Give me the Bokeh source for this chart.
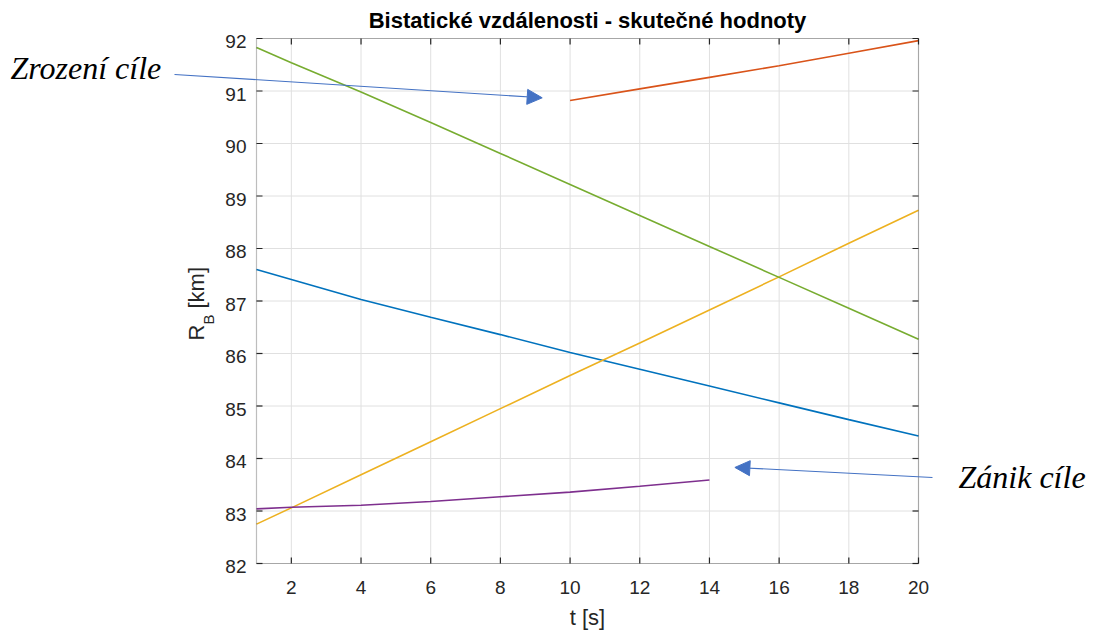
import math
from bokeh.plotting import figure
from bokeh.models import Range1d, Label, Arrow, NormalHead, BoxAnnotation
from bokeh.embed import file_html
from bokeh.resources import INLINE
from bokeh.core.properties import value

# Bistatic ranges of the targets over time (t in s, R_B in km)
t_blue = [1, 2, 4, 6, 8, 10, 12, 14, 16, 18, 20]
r_blue = [87.60, 87.41, 87.03, 86.69, 86.36, 86.02, 85.70, 85.38, 85.06, 84.74, 84.43]

t_orange = [10, 12, 14, 16, 18, 20]
r_orange = [90.82, 91.04, 91.26, 91.48, 91.72, 91.96]

t_yellow = [1, 2, 4, 6, 8, 10, 12, 14, 16, 18, 20]
r_yellow = [82.75, 83.06, 83.69, 84.32, 84.95, 85.58, 86.20, 86.83, 87.46, 88.10, 88.73]

t_purple = [1, 2, 4, 6, 8, 10, 12, 14]
r_purple = [83.04, 83.07, 83.11, 83.18, 83.27, 83.36, 83.47, 83.59]

t_green = [1, 2, 4, 6, 8, 10, 12, 14, 16, 18, 20]
r_green = [91.83, 91.54, 90.98, 90.40, 89.81, 89.22, 88.63, 88.04, 87.45, 86.86, 86.27]

x_ticks = [2, 4, 6, 8, 10, 12, 14, 16, 18, 20]
x_tick_labels = [str(v) for v in x_ticks]
y_ticks = [82, 83, 84, 85, 86, 87, 88, 89, 90, 91, 92]
y_tick_labels = [str(v) for v in y_ticks]

X0, X1 = 1, 20
Y0, Y1 = 82, 92

# page size and where the axes box sits on it (pixels from top-left)
W, H = 1093, 632
FL, FR, FT, FB = 256, 918, 38, 563
SX = (FR - FL) / (X1 - X0)   # px per second
SY = (FB - FT) / (Y1 - Y0)   # px per km

def dx(px):
    return X0 + (px - FL) / SX

def dy(py):
    return Y1 - (py - FT) / SY

SANS = "Liberation Sans"
SERIF = "Liberation Serif"
AX = "#262626"
GRID = "#e0e0e0"
AXW = 1.2

# the plotting frame covers the whole page, so that the side notes,
# the arrows and the axis texts around the box are all drawn in it
p = figure(width=W, height=H, output_backend="svg", toolbar_location=None,
           x_range=Range1d(dx(0), dx(W)), y_range=Range1d(dy(H), dy(0)),
           min_border_left=0, min_border_right=0, min_border_top=0,
           min_border_bottom=0, x_axis_location=None, y_axis_location=None)
p.outline_line_color = None
p.background_fill_color = "white"
p.border_fill_color = "white"
p.xgrid.visible = False
p.ygrid.visible = False

nx, ny = len(x_ticks), len(y_ticks)

# grid lines inside the box
p.segment(x0=x_ticks, y0=[Y0] * nx, x1=x_ticks, y1=[Y1] * nx,
          line_color=GRID, line_width=1)
p.segment(x0=[X0] * ny, y0=y_ticks, x1=[X1] * ny, y1=y_ticks,
          line_color=GRID, line_width=1)

# data
LW = 1.6
p.line(t_blue, r_blue, line_color="#0072BD", line_width=LW)
p.line(t_orange, r_orange, line_color="#D95319", line_width=LW)
p.line(t_yellow, r_yellow, line_color="#EDB120", line_width=LW)
p.line(t_purple, r_purple, line_color="#7E2F8E", line_width=LW)
p.line(t_green, r_green, line_color="#77AC30", line_width=LW)

# box around the axes
p.add_layout(BoxAnnotation(left=X0, right=X1, bottom=Y0, top=Y1,
                           fill_alpha=0, line_color=AX, line_width=AXW))

# inward ticks on all four edges
TL = 6
p.segment(x0=x_ticks, y0=[Y0] * nx, x1=x_ticks, y1=[Y0 + TL / SY] * nx,
          line_color=AX, line_width=AXW)
p.segment(x0=x_ticks, y0=[Y1] * nx, x1=x_ticks, y1=[Y1 - TL / SY] * nx,
          line_color=AX, line_width=AXW)
p.segment(x0=[X0] * ny, y0=y_ticks, x1=[X0 + TL / SX] * ny, y1=y_ticks,
          line_color=AX, line_width=AXW)
p.segment(x0=[X1] * ny, y0=y_ticks, x1=[X1 - TL / SX] * ny, y1=y_ticks,
          line_color=AX, line_width=AXW)

# tick labels
p.text(x=x_ticks, y=[Y0] * nx, text=x_tick_labels, y_offset=24,
       text_align="center", text_baseline="middle", text_font=value(SANS),
       text_font_size="19px", text_color=AX)
p.text(x=[X0] * ny, y=y_ticks, text=y_tick_labels, x_offset=-10, y_offset=3,
       text_align="right", text_baseline="middle", text_font=value(SANS),
       text_font_size="19px", text_color=AX)

# x-axis label
p.add_layout(Label(x=dx((FL + FR) / 2), y=dy(617), text="t [s]",
                   text_font=SANS, text_font_size="22px", text_color=AX,
                   text_align="center", text_baseline="middle"))

# title
p.add_layout(Label(x=dx((FL + FR) / 2), y=dy(19.5), text="Bistatické vzdálenosti - skutečné hodnoty",
                   text_font=SANS, text_font_size="22px", text_font_style="bold",
                   text_color="#000000", text_align="center", text_baseline="middle"))

# y-axis label R_B [km], rotated, with a subscript
lab = dict(angle=math.pi / 2, text_font=SANS, text_color=AX,
           text_align="left", text_baseline="middle")
p.add_layout(Label(x=dx(195.5), y=dy(340), text="R", text_font_size="22px", **lab))
p.add_layout(Label(x=dx(208), y=dy(324), text="B", text_font_size="15px", **lab))
p.add_layout(Label(x=dx(195.5), y=dy(308), text="[km]", text_font_size="22px", **lab))

# notes: appearance and disappearance of a target
ARROW = "#4472C4"
note = dict(text_font=SERIF, text_font_size="32px", text_font_style="italic",
            text_color="black", text_baseline="middle")
p.add_layout(Label(x=dx(10), y=dy(67), text="Zrození cíle", **note))
p.add_layout(Label(x=dx(958), y=dy(476), text="Zánik cíle", **note))

# birth arrow points just left of where the orange track begins
p.add_layout(Arrow(x_start=dx(174), y_start=dy(74),
                   x_end=t_orange[0] - 0.8, y_end=r_orange[0] + 0.05,
                   line_color=ARROW, line_width=1.1,
                   end=NormalHead(size=15, fill_color=ARROW, line_color=ARROW, line_width=1)))
# end arrow points just right of where the purple track stops
p.add_layout(Arrow(x_start=dx(932), y_start=dy(477),
                   x_end=t_purple[-1] + 0.73, y_end=r_purple[-1] + 0.24,
                   line_color=ARROW, line_width=1.1,
                   end=NormalHead(size=15, fill_color=ARROW, line_color=ARROW, line_width=1)))

open("out.html", "w").write(file_html(p, INLINE))
